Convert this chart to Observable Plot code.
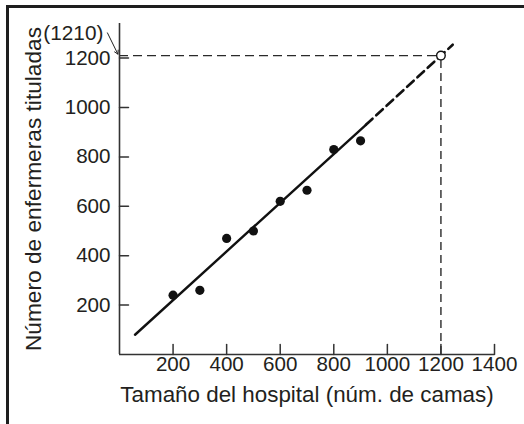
<!DOCTYPE html>
<html>
<head>
<meta charset="utf-8">
<script src="https://cdn.jsdelivr.net/npm/d3@7"></script>
<script src="https://cdn.jsdelivr.net/npm/@observablehq/plot@0.6"></script>
<style>
  html, body { margin: 0; padding: 0; background: #fff; }
  #wrap { position: relative; width: 524px; height: 424px; overflow: hidden; background: #fff; }
  #wrap svg { position: absolute; left: 0; top: 0; }
  #border { position: absolute; left: 6px; top: 5px; width: 700px; height: 700px;
            border: 3px solid #1e1e1e; box-sizing: border-box; pointer-events: none; }
</style>
</head>
<body>
<div id="wrap"><div id="border"></div></div>
<script>
// Data
const camas = [200, 300, 400, 500, 600, 700, 800, 900];
const enfermeras = [240, 260, 470, 500, 620, 665, 830, 865];

// Fitted line (solid over the data, dashed extrapolation)
const fitSolidX = [58, 920];
const fitSolidY = [80, 930];
const fitDashX = [920, 1244];
const fitDashY = [930, 1254];

// Prediction
const predX = [1200];
const predY = [1210];
const predLabel = ["(1210)"];

const xTicks = [200, 400, 600, 800, 1000, 1200, 1400];
const yTicks = [200, 400, 600, 800, 1000, 1200];
const xTitle = "Tamaño del hospital (núm. de camas)";
const yTitle = "Número de enfermeras tituladas";

const points = camas.map((c, i) => ({x: c, y: enfermeras[i]}));
const solid = fitSolidX.map((x, i) => ({x, y: fitSolidY[i]}));
const dashed = fitDashX.map((x, i) => ({x, y: fitDashY[i]}));

const ink = "#231f20";
const tickShape = {draw(ctx, l) { ctx.moveTo(0, 0); ctx.lineTo(0, -l); }};
const font = "'Liberation Sans', Arial, Helvetica, sans-serif";

const chart = Plot.plot({
  width: 524,
  height: 424,
  marginLeft: 119,
  marginRight: 30,
  marginTop: 23,
  marginBottom: 70,
  x: {domain: [0, 1400], axis: null},
  y: {domain: [0, 1340], axis: null},
  style: {fontFamily: font, fontSize: "21px", color: ink, background: "transparent", overflow: "visible"},
  marks: [
    // dashed guide lines to the prediction
    Plot.ruleY(predY, {y: d => d, x1: 0, x2: predX[0], stroke: "#2a2a2a", strokeWidth: 1.4, strokeDasharray: "9,5"}),
    Plot.ruleX(predX, {x: d => d, y1: 0, y2: predY[0], stroke: "#2a2a2a", strokeWidth: 1.4, strokeDasharray: "8,5"}),
    // axes lines
    Plot.ruleX([0], {stroke: "#333", strokeWidth: 1.6}),
    Plot.ruleY([0], {stroke: "#333", strokeWidth: 1.6}),
    // inward ticks
    Plot.vector(xTicks, {x: d => d, y: 0, length: 10, anchor: "start", rotate: 0, shape: tickShape, stroke: "#333", strokeWidth: 1.5}),
    Plot.vector(yTicks, {x: 0, y: d => d, length: 9, anchor: "start", rotate: 90, shape: tickShape, stroke: "#333", strokeWidth: 1.5}),
    // tick labels
    Plot.text(xTicks, {x: d => d, y: 0, text: d => String(d), lineAnchor: "top", dy: 2, fontSize: 20.6, fill: ink}),
    Plot.text(yTicks, {x: 0, y: d => d, text: d => String(d), textAnchor: "end", dx: -9, fontSize: 20.6, fill: ink}),
    // axis titles
    Plot.text([xTitle], {frameAnchor: "bottom", textAnchor: "middle", dy: 47, fontSize: 22.4, fill: ink}),
    Plot.text([yTitle], {frameAnchor: "left", textAnchor: "middle", dx: -86, rotate: -90, fontSize: 22.7, fill: ink}),
    // fitted line
    Plot.line(solid, {x: "x", y: "y", stroke: "#111", strokeWidth: 2.4}),
    Plot.line(dashed, {x: "x", y: "y", stroke: "#111", strokeWidth: 2.6, strokeDasharray: "9,5"}),
    // data points
    Plot.dot(points, {x: "x", y: "y", r: 4.6, fill: "#111", stroke: "none"}),
    // predicted point
    Plot.dot(predX.map((x, i) => ({x, y: predY[i]})), {x: "x", y: "y", r: 4.3, fill: "white", stroke: "#111", strokeWidth: 1.4}),
    // annotation
    Plot.text(predLabel, {x: -60, y: 1300, textAnchor: "end", fontSize: 20.8, fill: ink}),
    Plot.arrow([0], {x1: -45, y1: 1302, x2: -6, y2: 1216, stroke: "#222", strokeWidth: 1, headLength: 6})
  ]
});
document.getElementById("wrap").insertBefore(chart, document.getElementById("border"));
</script>
</body>
</html>
